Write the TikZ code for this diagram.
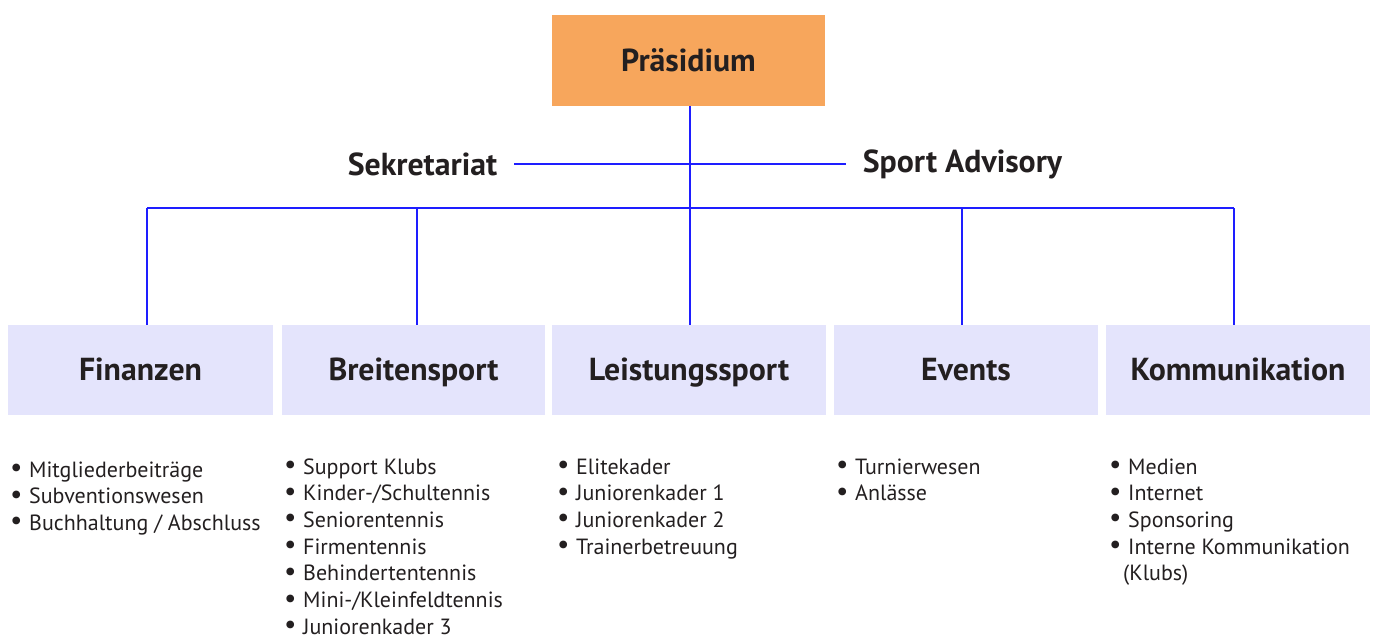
\documentclass[tikz,border=0pt]{standalone}
\usepackage{fontspec}
\usepackage{graphicx}
\setmainfont{PT Sans}
\definecolor{orangebox}{RGB}{247,166,92}
\definecolor{lav}{RGB}{228,228,252}
\definecolor{linec}{RGB}{30,30,255}
\definecolor{txt}{RGB}{35,31,32}
\newcommand{\bul}{\makebox[19pt][l]{\raisebox{0.5pt}{\scalebox{1.25}{\textbullet}}}}
\begin{document}
\begin{tikzpicture}[x=1pt,y=-1pt,
  head/.style={inner sep=0pt, text=txt, font=\fontsize{31.8}{36}\selectfont\bfseries},
  box/.style={head, fill=lav, minimum height=90pt, text height=24pt, text depth=4pt},
  topbox/.style={head, fill=orangebox, minimum width=273pt, minimum height=91pt},
  side/.style={head, inner xsep=17pt},
  conn/.style={draw=linec, line width=1.3pt},
  items/.style={anchor=base west, inner sep=0pt, align=left, text=txt,
    font=\fontsize{22}{26.7}\selectfont}]
\useasboundingbox (0,0) rectangle (1376,635);

\node[topbox] (pres) at (688.5,60.5) {Präsidium};

\node[side] (sek) at (422.5,164) {Sekretariat};
\node[side] (spa) at (962.5,164) {Sport Advisory};

\node[box, minimum width=265pt] (fin) at (140.5,370) {Finanzen};
\node[box, minimum width=263pt] (bre) at (413.5,370) {Breitensport};
\node[box, minimum width=274pt] (lei) at (689,370) {Leistungssport};
\node[box, minimum width=264pt] (eve) at (966,370) {Events};
\node[box, minimum width=264pt] (kom) at (1238,370) {Kommunikation};

\coordinate (b1) at (147,208);
\coordinate (b2) at (417,208);
\coordinate (b3) at (690,208);
\coordinate (b4) at (962,208);
\coordinate (b5) at (1234,208);

\draw[conn] (pres.south -| b3) -- (b3 |- lei.north);
\draw[conn] (sek.east) -- (spa.west);
\draw[conn] (b1) -- (b5);
\draw[conn] (b1) -- (b1 |- fin.north);
\draw[conn] (b2) -- (b2 |- bre.north);
\draw[conn] (b4) -- (b4 |- eve.north);
\draw[conn] (b5) -- (b5 |- kom.north);

% base anchor = baseline of the last line
\node[items] (lfin) at (10,530.4) {\bul Mitgliederbeiträge\\ \bul Subventionswesen\\ \bul Buchhaltung / Abschluss};
\node[items] (lbre) at (284,634.2) {\bul Support Klubs\\ \bul Kinder-/Schultennis\\ \bul Seniorentennis\\ \bul Firmentennis\\ \bul Behindertentennis\\ \bul Mini-/Kleinfeldtennis\\ \bul Juniorenkader 3};
\node[items] (llei) at (557,554.1) {\bul Elitekader\\ \bul Juniorenkader 1\\ \bul Juniorenkader 2\\ \bul Trainerbetreuung};
\node[items] (leve) at (836,500.7) {\bul Turnierwesen\\ \bul Anlässe};
\node[items] (lkom) at (1109,580.8) {\bul Medien\\ \bul Internet\\ \bul Sponsoring\\ \bul Interne Kommunikation\\ \hspace*{14pt}(Klubs)};
\end{tikzpicture}
\end{document}
